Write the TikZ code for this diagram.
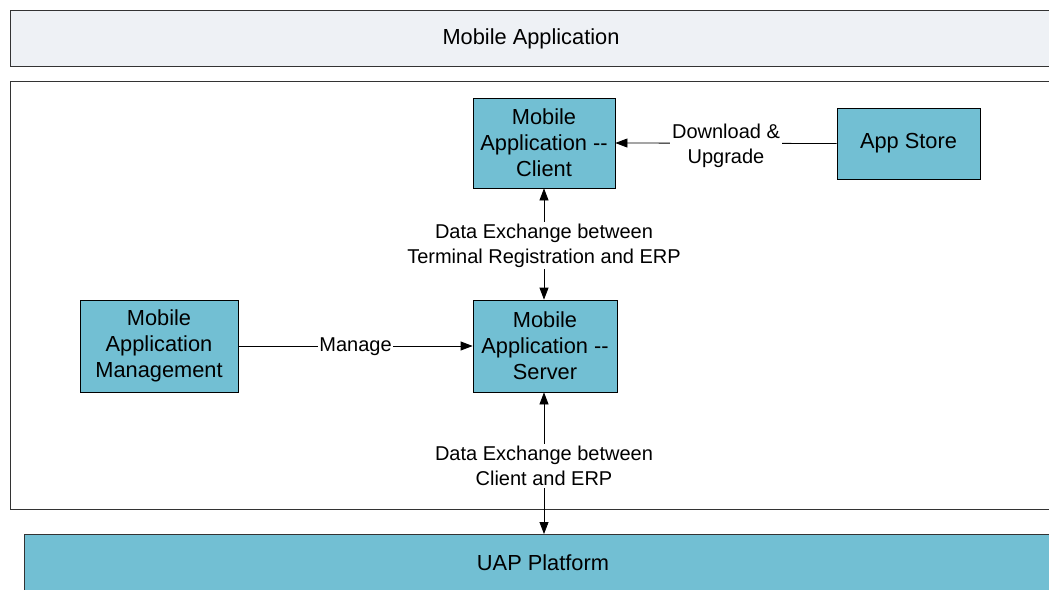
\documentclass[tikz,border=0pt]{standalone}
\usepackage{fontspec}
\setmainfont{Liberation Sans}
\usetikzlibrary{arrows.meta}
\definecolor{teal}{HTML}{72BFD3}
\definecolor{topfill}{HTML}{EEF1F5}
\definecolor{edge}{HTML}{333333}
\tikzset{
  box/.style={draw=black, line width=0.8pt, fill=teal, align=center, inner sep=0pt,
    font=\fontsize{21.8}{26}\selectfont},
  lbl/.style={fill=white, align=center, inner sep=2pt, yshift=-2.5pt, font=\fontsize{20}{25}\selectfont},
  conn/.style={line width=0.8pt, -{Triangle[length=12pt,width=9pt]}},
  bconn/.style={line width=0.8pt, {Triangle[length=12pt,width=9pt]}-{Triangle[length=12pt,width=9pt]}}
}
\begin{document}
\begin{tikzpicture}[x=1pt,y=-1pt]
\useasboundingbox (0,0) rectangle (1049,589);
\clip (0,0) rectangle (1049,589);
\fill[white] (0,0) rectangle (1049,589);
% top bar
\draw[edge, line width=0.8pt, fill=topfill] (10,10) rectangle (1070,66);
\node[font=\fontsize{21.8}{26}\selectfont] (top) at (531,39) {Mobile Application};
% frame
\draw[edge, line width=0.8pt, fill=white] (10,81) rectangle (1070,509);
% bottom bar
\draw[edge, line width=0.8pt, fill=teal] (24,534) rectangle (1070,610);
\node[font=\fontsize{21.8}{26}\selectfont] (uaplbl) at (543,563) {UAP Platform};
\coordinate (uap) at (544,534);
% boxes
\node[box, minimum width=142pt, minimum height=90pt] (client) at (544,143) {Mobile\\Application -{}-\\Client};
\node[box, minimum width=143pt, minimum height=71pt] (store) at (908.5,143.5) {App Store};
\node[box, minimum width=144pt, minimum height=92pt] (server) at (545,346) {Mobile\\Application -{}-\\Server};
\node[box, minimum width=158pt, minimum height=92pt] (mgmt) at (159,346) {Mobile\\Application\\Management};
% connectors
\draw[conn] (store.west) -- node[lbl] {Download \&\\Upgrade} (client.east);
\draw[bconn] (client.south) -- node[lbl, pos=0.49] {Data Exchange between\\Terminal Registration and ERP} (client.south |- server.north);
\draw[conn] (mgmt.east) -- node[lbl, pos=0.5, inner sep=1pt, yshift=1.5pt] {Manage} (server.west);
\draw[bconn] (uap -| client.south) -- node[lbl, pos=0.5] {Data Exchange between\\Client and ERP} (client.south |- server.south);
\end{tikzpicture}
\end{document}
